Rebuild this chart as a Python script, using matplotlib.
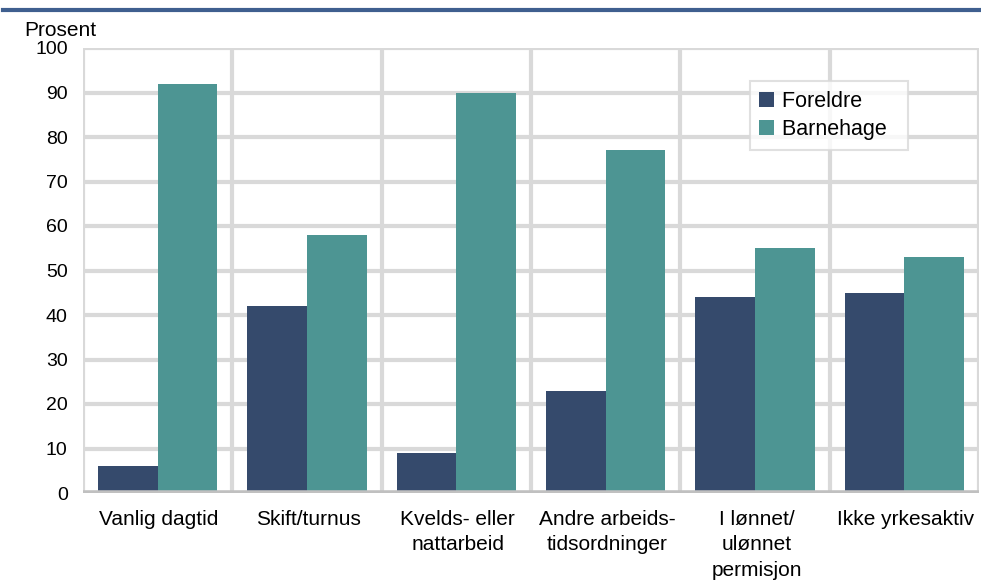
import numpy as np
import matplotlib.pyplot as plt
from matplotlib.lines import Line2D

plt.rcParams["font.family"] = ["Liberation Sans", "DejaVu Sans"]

categories = ["Vanlig dagtid", "Skift/turnus", "Kvelds- eller\nnattarbeid",
              "Andre arbeids-\ntidsordninger", "I lønnet/\nulønnet\npermisjon",
              "Ikke yrkesaktiv"]
foreldre = [6, 42, 9, 23, 44, 45]
barnehage = [92, 58, 90, 77, 55, 53]
yticks = list(range(0, 101, 10))

C_FOR = "#354A6C"
C_BHG = "#4D9593"
GRID = "#D9D9D9"

fig = plt.figure(figsize=(9.81, 5.81), dpi=100)
ax = fig.add_axes([83 / 981, 1 - 493 / 581, (979 - 83) / 981, (493 - 48) / 581])

x = np.arange(len(categories))
w = 0.4
ax.bar(x - w / 2, foreldre, w, color=C_FOR, label="Foreldre", zorder=3)
ax.bar(x + w / 2, barnehage, w, color=C_BHG, label="Barnehage", zorder=3)

ax.set_xlim(-0.5, len(categories) - 0.5)
ax.set_ylim(0, 100)

# gridlines
for yv in yticks[1:]:
    ax.axhline(yv, color=GRID, lw=3, zorder=1)
for xv in np.arange(-0.5, len(categories), 1.0):
    ax.axvline(xv, color=GRID, lw=3, zorder=1)
ax.axhline(0, color="#C0C0C0", lw=4, zorder=4)

for s in ax.spines.values():
    s.set_visible(False)

ax.set_yticks(yticks)
ax.set_yticklabels([str(v) for v in yticks], fontsize=14)
ax.set_xticks(x + 0.01)
ax.set_xticklabels(categories, fontsize=15, linespacing=1.45, va="top")
ax.tick_params(axis="both", length=0)
ax.tick_params(axis="y", pad=11)
ax.tick_params(axis="x", pad=12)

fig.text(24 / 981, 1 - 30 / 581, "Prosent", fontsize=15, ha="left", va="center")

# header rule
fig.add_artist(Line2D([3 / 981, 1.0], [1 - 10 / 581, 1 - 10 / 581],
                      color="#3F5F8F", lw=3, transform=fig.transFigure))

leg = ax.legend(loc="upper left", bbox_to_anchor=(0.744, 0.926), fontsize=15.5,
                frameon=True, fancybox=False, handlelength=0.7, handleheight=0.7,
                handletextpad=0.35, borderpad=0.45, labelspacing=0.35,
                borderaxespad=0)
leg.get_frame().set_edgecolor(GRID)
leg.get_frame().set_linewidth(1.5)
leg.set_zorder(5)
for t in leg.get_texts():
    t.set_text(t.get_text() + "  ")

fig.savefig("out.png", dpi=100)
